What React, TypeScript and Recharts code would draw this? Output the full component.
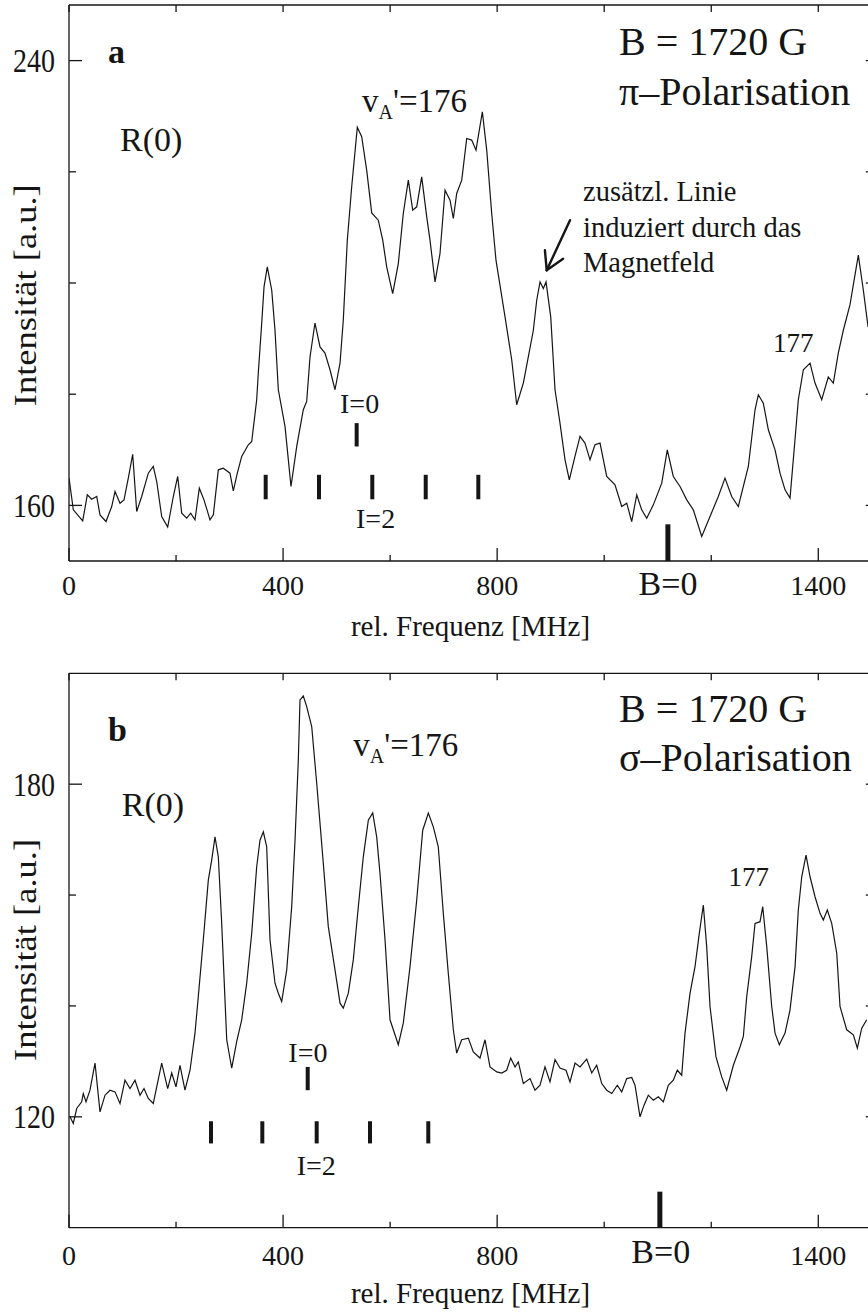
import React from 'react';
import { LineChart, Line, XAxis, YAxis, ReferenceLine, ReferenceDot } from 'recharts';

const FONT = '"Liberation Serif", "Times New Roman", Times, serif';
const INK = '#151515';

// ---------- Panel a (pi polarisation) ----------
const freqA = [
  0, 8.1, 25.6, 34.2, 42.4, 51.8, 57.9, 69.1, 79.8, 86.0,
  95.3, 102.8, 110.8, 119.0, 126.5, 135.8, 148.2, 157.5, 163.9, 173.2,
  184.4, 194.9, 203.1, 210.6, 219.9, 227.4, 235.4, 243.5, 252.2, 263.5,
  269.7, 279.0, 288.3, 300.8, 307.0, 314.5, 322.7, 335.0, 341.4, 350.7,
  353.7, 360.1, 364.4, 370.5, 378.8, 384.9, 391.1, 403.6, 414.8, 425.5,
  437.8, 444.1, 450.3, 459.6, 469.0, 478.3, 487.7, 497.0, 506.4, 512.5,
  520.0, 528.2, 538.7, 546.9, 556.2, 565.6, 577.9, 586.2, 593.6, 604.8,
  615.3, 624.6, 634.0, 642.2, 649.7, 659.0, 668.4, 674.5, 683.9, 693.2,
  702.6, 711.9, 718.1, 724.4, 733.8, 743.1, 752.4, 760.5, 772.3, 780.5,
  789.8, 797.8, 814.7, 827.2, 836.5, 848.9, 858.2, 867.6, 873.9, 880.1,
  886.3, 891.3, 900.1, 908.1, 917.4, 926.8, 934.8, 945.4, 954.8, 964.1,
  973.5, 982.8, 992.2, 1004.7, 1020.2, 1032.7, 1042.1, 1051.4, 1060.8, 1070.1,
  1079.4, 1091.8, 1107.5, 1117.9, 1129.1, 1141.7, 1154.2, 1166.5, 1182.2, 1197.7,
  1213.2, 1225.7, 1238.2, 1250.6, 1269.3, 1281.8, 1288.0, 1297.3, 1306.7, 1319.2,
  1328.5, 1337.9, 1347.2, 1356.5, 1362.7, 1372.1, 1384.6, 1393.9, 1406.4, 1418.7,
  1428.1, 1437.4, 1446.8, 1459.3, 1474.8, 1484.2, 1493.0,
];
const intA = [
  164.9, 159.2, 157.2, 161.9, 161.1, 161.6, 158.3, 157.1, 159.8, 162.5,
  160.4, 161.0, 164.9, 169.2, 158.9, 161.6, 165.8, 167.0, 164.3, 158.0,
  156.1, 161.6, 165.2, 158.6, 157.7, 158.6, 157.4, 163.1, 161.0, 157.4,
  158.3, 166.4, 166.7, 165.8, 162.6, 165.8, 168.8, 170.9, 171.5, 179.0,
  183.8, 192.8, 199.3, 202.9, 198.7, 191.5, 180.8, 174.2, 163.4, 170.6,
  177.2, 178.7, 186.7, 192.8, 188.5, 187.4, 184.4, 180.8, 185.6, 193.3,
  207.7, 217.3, 228.0, 226.3, 220.3, 212.6, 211.3, 207.7, 202.9, 198.1,
  203.5, 212.5, 218.5, 213.1, 213.7, 219.1, 211.9, 207.7, 200.2, 205.3,
  216.7, 214.9, 211.6, 216.1, 218.5, 226.0, 225.7, 223.9, 230.8, 223.9,
  212.5, 204.1, 193.9, 186.2, 178.1, 182.0, 186.7, 191.5, 196.9, 200.2,
  199.0, 200.2, 193.9, 180.8, 174.8, 168.2, 164.6, 168.8, 172.4, 171.2,
  168.2, 170.9, 171.2, 165.2, 163.7, 159.8, 160.4, 157.1, 161.9, 159.2,
  157.7, 160.1, 164.0, 170.0, 165.2, 163.4, 161.0, 159.2, 154.4, 158.0,
  161.6, 164.9, 161.6, 159.8, 167.0, 177.2, 179.9, 178.4, 173.6, 170.0,
  165.8, 162.8, 161.3, 171.8, 179.0, 184.4, 185.6, 182.0, 179.0, 183.1,
  182.0, 187.4, 191.5, 196.1, 205.0, 198.7, 192.1,
];

// ---------- Panel b (sigma polarisation) ----------
const freqB = [
  1.9, 8.0, 14.4, 23.7, 26.7, 31.8, 39.2, 48.6, 57.9, 67.3,
  76.6, 86.0, 95.3, 104.6, 114.0, 123.3, 132.7, 140.1, 148.2, 157.5,
  163.9, 173.2, 184.4, 191.9, 199.9, 207.4, 216.7, 226.1, 235.4, 241.6,
  250.9, 260.3, 266.6, 272.8, 279.0, 285.3, 294.7, 304.0, 313.4, 322.7,
  332.0, 341.4, 350.7, 356.9, 363.1, 369.4, 375.6, 384.9, 391.1, 397.4,
  406.8, 416.1, 422.3, 428.5, 431.6, 437.8, 444.1, 453.5, 462.8, 475.2,
  484.5, 497.0, 506.4, 512.5, 521.9, 531.2, 540.6, 549.9, 559.3, 567.5,
  574.9, 581.1, 590.5, 599.8, 615.3, 624.6, 637.2, 649.7, 660.9, 671.4,
  680.7, 690.0, 699.4, 708.7, 718.1, 724.4, 733.8, 746.1, 755.4, 767.9,
  777.3, 786.6, 799.2, 808.5, 817.8, 825.3, 833.4, 839.5, 848.9, 861.4,
  870.7, 880.1, 889.4, 898.7, 908.1, 917.4, 928.6, 936.1, 945.5, 954.8,
  967.3, 976.7, 986.0, 995.4, 1004.7, 1014.1, 1024.5, 1032.7, 1042.1, 1051.4,
  1057.6, 1066.9, 1074.4, 1082.4, 1091.8, 1101.1, 1110.5, 1119.8, 1129.1, 1136.6,
  1144.8, 1151.0, 1160.4, 1169.7, 1177.7, 1185.2, 1191.5, 1197.7, 1208.9, 1219.6,
  1228.9, 1241.3, 1253.8, 1260.0, 1266.3, 1275.6, 1281.8, 1291.2, 1296.2, 1303.7,
  1313.0, 1319.2, 1327.2, 1337.9, 1347.2, 1356.6, 1362.7, 1369.1, 1377.1, 1384.6,
  1393.9, 1403.3, 1409.4, 1416.9, 1425.1, 1434.5, 1440.6, 1453.1, 1465.5, 1473.0,
  1481.2, 1490.5,
];
const intB = [
  120.0, 118.8, 121.5, 122.7, 124.2, 122.7, 124.8, 129.7, 120.9, 123.9,
  124.8, 124.5, 122.4, 126.6, 125.1, 126.6, 123.9, 125.1, 123.3, 122.4,
  125.4, 129.7, 125.1, 127.9, 125.4, 129.3, 124.8, 128.4, 135.1, 141.7,
  151.9, 162.7, 166.3, 170.5, 166.9, 154.9, 133.9, 128.8, 133.6, 137.5,
  144.1, 153.1, 165.1, 169.9, 171.4, 168.7, 151.9, 144.1, 142.3, 140.8,
  146.5, 157.9, 169.9, 184.4, 195.2, 195.9, 194.0, 190.4, 180.2, 165.7,
  154.3, 146.5, 140.5, 139.6, 142.3, 148.3, 157.9, 166.9, 173.5, 174.8,
  170.5, 163.9, 151.9, 137.5, 133.0, 136.9, 147.1, 159.1, 171.7, 174.8,
  172.3, 168.7, 156.7, 145.9, 135.7, 131.5, 133.9, 134.2, 131.7, 130.6,
  133.9, 129.0, 128.1, 127.9, 128.4, 130.6, 129.0, 129.9, 126.0, 126.9,
  124.8, 125.7, 129.0, 126.3, 130.3, 128.8, 128.4, 126.3, 129.7, 129.0,
  130.4, 127.9, 129.3, 126.0, 124.8, 124.2, 125.7, 124.5, 126.9, 127.1,
  125.7, 120.0, 122.1, 123.9, 123.0, 123.6, 122.7, 125.7, 126.6, 128.4,
  127.5, 135.1, 142.3, 147.1, 153.1, 158.2, 150.7, 139.9, 130.8, 127.2,
  124.8, 129.3, 132.6, 134.5, 141.7, 148.9, 154.9, 155.2, 157.9, 150.7,
  139.9, 135.1, 133.0, 135.1, 139.3, 147.1, 157.3, 163.3, 167.2, 163.3,
  159.7, 156.7, 155.5, 157.3, 154.9, 149.5, 139.9, 135.7, 134.8, 132.4,
  136.0, 137.5,
];

// ---------- axes ----------
const xTicks = [0, 200, 400, 600, 800, 1000, 1200, 1400];
const xTickLabels = ['0', '', '400', '', '800', '', '', '1400'];
const yTicksA = [160, 180, 200, 220, 240];
const yTickLabelsA = ['160', '', '', '', '240'];
const yTicksB = [120, 140, 160, 180];
const yTickLabelsB = ['120', '', '', '180'];

// ---------- line markers (hyperfine components) ----------
const i2PosA = [367.5, 467.1, 566.7, 666.5, 764.8];
const i0PosA = [537.5];
const bZeroPosA = [1119];
const i2PosB = [265.3, 361.2, 462.8, 562.4, 671.3];
const i0PosB = [446];
const bZeroPosB = [1104];

const dataA = freqA.map((f, i) => ({ f, v: intA[i] }));
const dataB = freqB.map((f, i) => ({ f, v: intB[i] }));

const W = 900;
const PLOT_W = 802.8;
const RIGHT_AX = 10;
const MARGIN_R = W - 69 - PLOT_W - RIGHT_AX;

const txt = { fontFamily: FONT, fill: INK } as const;

const makeBottomTick = (ticks: number[], labels: string[], off: number) => (props: any) => {
  const { x, y, payload } = props;
  const i = ticks.indexOf(payload.value);
  const lab = i >= 0 ? labels[i] : '';
  const len = lab ? 13 : 6;
  return (
    <g>
      <line x1={x} x2={x} y1={y} y2={y - len} stroke={INK} strokeWidth={1.3} />
      {lab ? (
        <text x={x} y={y + off} textAnchor="middle" fontSize={28} {...txt}>{lab}</text>
      ) : null}
    </g>
  );
};
const TopTick = (props: any) => {
  const { x, y } = props;
  return <line x1={x} x2={x} y1={y} y2={y + 7} stroke={INK} strokeWidth={1.3} />;
};
const makeLeftTick = (ticks: number[], labels: string[]) => (props: any) => {
  const { x, y, payload } = props;
  const i = ticks.indexOf(payload.value);
  const lab = i >= 0 ? labels[i] : '';
  const len = lab ? 13 : 7;
  return (
    <g>
      <line x1={x} x2={x + len} y1={y} y2={y} stroke={INK} strokeWidth={1.3} />
      {lab ? (
        <text transform={`translate(${x - 14},${y}) scale(1,1.2)`} textAnchor="end" dominantBaseline="central" fontSize={28} {...txt}>{lab}</text>
      ) : null}
    </g>
  );
};
const RightTick = (props: any) => {
  const { x, y } = props;
  return <line x1={x} x2={x - 6} y1={y} y2={y} stroke={INK} strokeWidth={1.3} />;
};

const note = (content: (cx: number, cy: number) => React.ReactElement) => (p: any) => content(p.cx, p.cy);

const Arrow = (p: any) => {
  const { cx, cy } = p;
  return (
    <g stroke={INK} strokeWidth={2.4} fill="none" strokeLinecap="round">
      <line x1={cx} y1={cy} x2={cx + 23.3} y2={cy - 50} />
      <line x1={cx} y1={cy} x2={cx + 16.4} y2={cy - 11.5} />
      <line x1={cx} y1={cy} x2={cx - 1.8} y2={cy - 19.9} />
    </g>
  );
};

const YTitle = (cx: number, cy: number) => (
  <text transform={`translate(${cx},${cy}) rotate(-90)`} textAnchor="middle" fontSize={32} textLength={222} lengthAdjust="spacingAndGlyphs" {...txt}>
    Intensität [a.u.]
  </text>
);

const VA = (cx: number, cy: number) => (
  <text x={cx} y={cy} fontSize={33} {...txt}>
    v<tspan fontSize={20} dy={7}>A</tspan><tspan dy={-7}>'=176</tspan>
  </text>
);

const axisLine = { stroke: INK, strokeWidth: 1.3 };

type PanelProps = {
  data: { f: number; v: number }[];
  height: number;
  top: number;
  bottomH: number;
  yDomain: [number, number];
  yTicks: number[];
  yLabels: string[];
  tickOff: number;
  children?: React.ReactNode;
};

function Panel({ data, height, top, bottomH, yDomain, yTicks, yLabels, tickOff, children }: PanelProps) {
  return (
    <LineChart width={W} height={height} data={data} margin={{ top, right: MARGIN_R, bottom: 0, left: 0 }}>
      <XAxis
        dataKey="f" type="number" domain={[0, 1500]} allowDataOverflow ticks={xTicks} interval={0}
        tickSize={0} tickMargin={0} height={bottomH} axisLine={axisLine} tickLine={false}
        tick={makeBottomTick(xTicks, xTickLabels, tickOff)}
      />
      <XAxis
        xAxisId="top" orientation="top" dataKey="f" type="number" domain={[0, 1500]} allowDataOverflow
        ticks={xTicks} interval={0} tickSize={0} tickMargin={0} height={5} axisLine={axisLine}
        tickLine={false} tick={TopTick}
      />
      <YAxis
        type="number" domain={yDomain} allowDataOverflow ticks={yTicks} interval={0} tickSize={0}
        tickMargin={0} width={69} axisLine={axisLine} tickLine={false} tick={makeLeftTick(yTicks, yLabels)}
      />
      <YAxis
        yAxisId="right" orientation="right" type="number" domain={yDomain} allowDataOverflow ticks={yTicks}
        interval={0} tickSize={0} tickMargin={0} width={RIGHT_AX} axisLine={axisLine} tickLine={false}
        tick={RightTick}
      />
      <Line type="linear" dataKey="v" stroke={INK} strokeWidth={1.2} dot={false} isAnimationActive={false} />
      {children}
    </LineChart>
  );
}

const seg = (x: number, y0: number, y1: number, w: number, key: string) => (
  <ReferenceLine key={key} segment={[{ x, y: y0 }, { x, y: y1 }]} stroke={INK} strokeWidth={w} ifOverflow="visible" />
);

const dot = (key: string, x: number, y: number, shape: any) => (
  <ReferenceDot key={key} x={x} y={y} r={1} ifOverflow="visible" shape={shape} />
);

function PanelA() {
  return (
    <Panel data={dataA} height={651} top={0} bottomH={90} yDomain={[150, 250]} yTicks={yTicksA} yLabels={yTickLabelsA} tickOff={34}>
      {i2PosA.map((x, i) => seg(x, 161.1, 165.5, 4, 'ai2' + i))}
      {i0PosA.map((x, i) => seg(x, 170.6, 174.8, 4, 'ai0' + i))}
      {bZeroPosA.map((x, i) => seg(x, 150, 156.6, 5, 'ab0' + i))}
      {dot('a-lab', 72.9, 239.6, note((cx, cy) => <text x={cx} y={cy} fontSize={34} fontWeight="bold" {...txt}>a</text>))}
      {dot('a-r0', 95.3, 223.7, note((cx, cy) => <text x={cx} y={cy} fontSize={34} {...txt}>R(0)</text>))}
      {dot('a-va', 547.5, 230.8, note(VA))}
      {dot('a-b', 1027.7, 241.0, note((cx, cy) => <text x={cx} y={cy} fontSize={40} {...txt}>B = 1720 G</text>))}
      {dot('a-pol', 1027.7, 232.0, note((cx, cy) => <text x={cx} y={cy} fontSize={40} {...txt}>π–Polarisation</text>))}
      {dot('a-z1', 960.4, 214.7, note((cx, cy) => <text x={cx} y={cy} fontSize={28.5} {...txt}>zusätzl. Linie</text>))}
      {dot('a-z2', 960.4, 208.3, note((cx, cy) => <text x={cx} y={cy} fontSize={28.5} {...txt}>induziert durch das</text>))}
      {dot('a-z3', 960.4, 202.0, note((cx, cy) => <text x={cx} y={cy} fontSize={28.5} {...txt}>Magnetfeld</text>))}
      {dot('a-arrow', 892.6, 202.3, Arrow)}
      {dot('a-177', 1315.4, 187.6, note((cx, cy) => <text x={cx} y={cy} fontSize={27} {...txt}>177</text>))}
      {dot('a-i0', 506.4, 176.6, note((cx, cy) => <text x={cx} y={cy} fontSize={28} {...txt}>I=0</text>))}
      {dot('a-i2', 536.3, 155.9, note((cx, cy) => <text x={cx} y={cy} fontSize={28} {...txt}>I=2</text>))}
      {dot('a-b0', 1119.2, 143.9, note((cx, cy) => <text x={cx} y={cy} fontSize={34} textAnchor="middle" {...txt}>B=0</text>))}
      {dot('a-yt', -61.7, 197.8, note(YTitle))}
      {dot('a-xt', 750.2, 136.5, note((cx, cy) => <text x={cx} y={cy} fontSize={29} textAnchor="middle" {...txt}>rel. Frequenz [MHz]</text>))}
    </Panel>
  );
}

function PanelB() {
  return (
    <Panel data={dataB} height={672} top={28.3} bottomH={84.3} yDomain={[100, 200]} yTicks={yTicksB} yLabels={yTickLabelsB} tickOff={37}>
      {i2PosB.map((x, i) => seg(x, 115.2, 119.2, 4, 'bi2' + i))}
      {i0PosB.map((x, i) => seg(x, 124.8, 129.0, 4, 'bi0' + i))}
      {bZeroPosB.map((x, i) => seg(x, 100, 106.5, 5, 'bb0' + i))}
      {dot('b-lab', 72.9, 187.7, note((cx, cy) => <text x={cx} y={cy} fontSize={34} fontWeight="bold" {...txt}>b</text>))}
      {dot('b-r0', 98.5, 174.3, note((cx, cy) => <text x={cx} y={cy} fontSize={34} {...txt}>R(0)</text>))}
      {dot('b-va', 531.2, 185.0, note(VA))}
      {dot('b-b', 1027.7, 191.3, note((cx, cy) => <text x={cx} y={cy} fontSize={40} {...txt}>B = 1720 G</text>))}
      {dot('b-pol', 1027.7, 182.3, note((cx, cy) => <text x={cx} y={cy} fontSize={40} {...txt}>σ–Polarisation</text>))}
      {dot('b-177', 1232.3, 161.6, note((cx, cy) => <text x={cx} y={cy} fontSize={27} {...txt}>177</text>))}
      {dot('b-i0', 409.8, 129.9, note((cx, cy) => <text x={cx} y={cy} fontSize={28} {...txt}>I=0</text>))}
      {dot('b-i2', 425.5, 109.5, note((cx, cy) => <text x={cx} y={cy} fontSize={28} {...txt}>I=2</text>))}
      {dot('b-b0', 1105.6, 93.6, note((cx, cy) => <text x={cx} y={cy} fontSize={34} textAnchor="middle" {...txt}>B=0</text>))}
      {dot('b-yt', -61.7, 150.1, note(YTitle))}
      {dot('b-xt', 750.2, 86.4, note((cx, cy) => <text x={cx} y={cy} fontSize={29} textAnchor="middle" {...txt}>rel. Frequenz [MHz]</text>))}
    </Panel>
  );
}

export default function App() {
  return (
    <div style={{ position: 'absolute', left: 0, top: 0, width: 868, height: 1312, overflow: 'hidden', background: '#fff' }}>
      <div style={{ position: 'absolute', left: 0, top: 0 }}>
        <PanelA />
      </div>
      <div style={{ position: 'absolute', left: 0, top: 640 }}>
        <PanelB />
      </div>
    </div>
  );
}
